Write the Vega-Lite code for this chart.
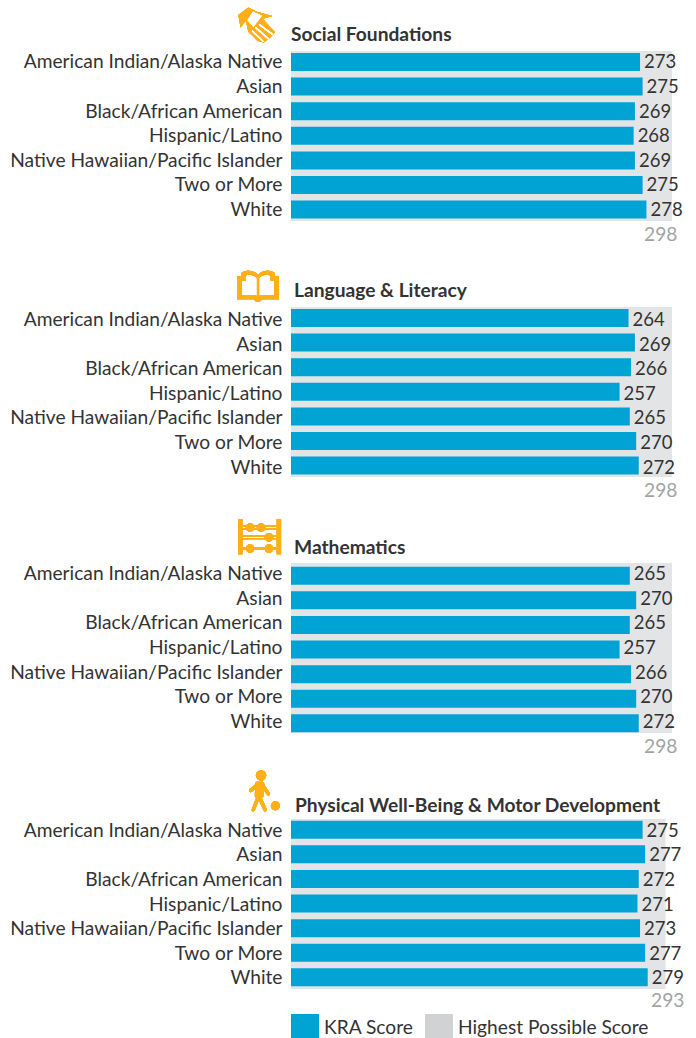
{
"$schema":"https://vega.github.io/schema/vega-lite/v6.json",
"padding":{"left":9,"top":7,"right":0,"bottom":0},
"background":"white",
"config":{"view":{"stroke":null},"font":"Lato","text":{"font":"Lato"},"axis":{"labelFont":"Lato"},"legend":{"labelFont":"Lato"},"title":{"font":"Lato"}},
"bounds":"flush",
"spacing":86,
"data":{"values":[
{"subject":"Social Foundations","group":"American Indian/Alaska Native","score":273,"max":298},
{"subject":"Social Foundations","group":"Asian","score":275,"max":298},
{"subject":"Social Foundations","group":"Black/African American","score":269,"max":298},
{"subject":"Social Foundations","group":"Hispanic/Latino","score":268,"max":298},
{"subject":"Social Foundations","group":"Native Hawaiian/Pacific Islander","score":269,"max":298},
{"subject":"Social Foundations","group":"Two or More","score":275,"max":298},
{"subject":"Social Foundations","group":"White","score":278,"max":298},
{"subject":"Language & Literacy","group":"American Indian/Alaska Native","score":264,"max":298},
{"subject":"Language & Literacy","group":"Asian","score":269,"max":298},
{"subject":"Language & Literacy","group":"Black/African American","score":266,"max":298},
{"subject":"Language & Literacy","group":"Hispanic/Latino","score":257,"max":298},
{"subject":"Language & Literacy","group":"Native Hawaiian/Pacific Islander","score":265,"max":298},
{"subject":"Language & Literacy","group":"Two or More","score":270,"max":298},
{"subject":"Language & Literacy","group":"White","score":272,"max":298},
{"subject":"Mathematics","group":"American Indian/Alaska Native","score":265,"max":298},
{"subject":"Mathematics","group":"Asian","score":270,"max":298},
{"subject":"Mathematics","group":"Black/African American","score":265,"max":298},
{"subject":"Mathematics","group":"Hispanic/Latino","score":257,"max":298},
{"subject":"Mathematics","group":"Native Hawaiian/Pacific Islander","score":266,"max":298},
{"subject":"Mathematics","group":"Two or More","score":270,"max":298},
{"subject":"Mathematics","group":"White","score":272,"max":298},
{"subject":"Physical Well-Being & Motor Development","group":"American Indian/Alaska Native","score":275,"max":293},
{"subject":"Physical Well-Being & Motor Development","group":"Asian","score":277,"max":293},
{"subject":"Physical Well-Being & Motor Development","group":"Black/African American","score":272,"max":293},
{"subject":"Physical Well-Being & Motor Development","group":"Hispanic/Latino","score":271,"max":293},
{"subject":"Physical Well-Being & Motor Development","group":"Native Hawaiian/Pacific Islander","score":273,"max":293},
{"subject":"Physical Well-Being & Motor Development","group":"Two or More","score":277,"max":293},
{"subject":"Physical Well-Being & Motor Development","group":"White","score":279,"max":293}
]},
"vconcat":[
{"width":381,"height":170,
"title":{"text":"Social Foundations","anchor":"start","frame":"group","fontSize":19.2,"fontWeight":"bold","color":"#333333","offset":-38,"dx":0},
"transform":[{"filter":"datum.subject==='Social Foundations'"}],
"layer":[
{"mark":{"type":"rect","color":"#E3E4E6"},"encoding":{"x":{"aggregate":"max","field":"max","type":"quantitative","scale":{"domain":[0,298],"nice":false},"axis":{"values":[298],"title":null,"grid":false,"domain":false,"ticks":false,"labelAlign":"right","labelOffset":5,"labelPadding":4,"labelFontSize":19.2,"labelColor":"#A3A3A3"}},"x2":{"datum":0},"y":{"value":0},"y2":{"value":170}}},
{"mark":{"type":"bar","color":"#00A3D3"},"encoding":{"x":{"field":"score","type":"quantitative","scale":{"domain":[0,298],"nice":false}},"y":{"field":"group","type":"nominal","sort":null,"scale":{"paddingInner":0.268,"paddingOuter":0.089,"align":0.45},"axis":{"title":null,"domain":false,"ticks":false,"labelFontSize":19.2,"labelColor":"#333333","labelPadding":9,"labelLimit":400,"labelOffset":0.5}}}},
{"mark":{"type":"text","align":"left","baseline":"middle","dx":4,"dy":0.5,"fontSize":18.5,"color":"#333333"},"encoding":{"x":{"field":"score","type":"quantitative"},"y":{"field":"group","type":"nominal","sort":null},"text":{"field":"score","type":"quantitative"}}},
{"mark":{"type":"point","filled":true,"opacity":1,"size":1369,"fill":"#FFB018","yOffset":-37,"shape":"M-0.98,-0.54 L-0.44,-0.95 L0.01,-0.72 L0.86,-0.49 L0.33,-0.34 L1,0.4 L0.82,0.59 L0.64,0.77 L0.37,0.95 L0.05,0.85 L-0.44,0.36 L-0.57,-0.23 L-0.86,0.13 Z"},"encoding":{"x":{"datum":-27},"y":{"datum":"American Indian/Alaska Native"}}},
{"mark":{"type":"point","filled":true,"opacity":1,"size":1369,"fill":"#FFFFFF","stroke":"#FFFFFF","strokeWidth":1.2,"yOffset":-37,"shape":"M-0.44,-0.27 L-0.17,-0.67 L0.23,-0.49 L-0.17,0.05 Z M0.15,-0.03 L0.87,0.52 M-0.05,0.14 L0.66,0.76 M-0.23,0.32 L0.37,0.9"},"encoding":{"x":{"datum":-27},"y":{"datum":"American Indian/Alaska Native"}}}
]},
{"width":381,"height":170,
"title":{"text":"Language & Literacy","anchor":"start","frame":"group","fontSize":19.2,"fontWeight":"bold","color":"#333333","offset":-30,"dx":3},
"transform":[{"filter":"datum.subject==='Language & Literacy'"}],
"layer":[
{"mark":{"type":"rect","color":"#E3E4E6"},"encoding":{"x":{"aggregate":"max","field":"max","type":"quantitative","scale":{"domain":[0,298],"nice":false},"axis":{"values":[298],"title":null,"grid":false,"domain":false,"ticks":false,"labelAlign":"right","labelOffset":5,"labelPadding":4,"labelFontSize":19.2,"labelColor":"#A3A3A3"}},"x2":{"datum":0},"y":{"value":0},"y2":{"value":170}}},
{"mark":{"type":"bar","color":"#00A3D3"},"encoding":{"x":{"field":"score","type":"quantitative","scale":{"domain":[0,298],"nice":false}},"y":{"field":"group","type":"nominal","sort":null,"scale":{"paddingInner":0.268,"paddingOuter":0.089,"align":0.45},"axis":{"title":null,"domain":false,"ticks":false,"labelFontSize":19.2,"labelColor":"#333333","labelPadding":9,"labelLimit":400,"labelOffset":2}}}},
{"mark":{"type":"text","align":"left","baseline":"middle","dx":4,"dy":2,"fontSize":18.5,"color":"#333333"},"encoding":{"x":{"field":"score","type":"quantitative"},"y":{"field":"group","type":"nominal","sort":null},"text":{"field":"score","type":"quantitative"}}},
{"mark":{"type":"point","filled":true,"opacity":1,"size":1764,"fill":"#FFB018","yOffset":-31,"shape":"M-1,-0.5 L-0.78,-0.5 L-0.78,-0.68 C-0.5,-0.82 -0.2,-0.8 0,-0.58 C0.2,-0.8 0.5,-0.82 0.78,-0.68 L0.78,-0.5 L1,-0.5 L1,0.58 L0.2,0.58 Q0,0.85 -0.2,0.58 L-1,0.58 Z M-0.05,-0.42 C-0.2,-0.6 -0.5,-0.62 -0.6,-0.52 L-0.6,-0.3 L-0.78,-0.3 L-0.78,0.38 L-0.1,0.38 L-0.05,0.5 Z M0.05,-0.42 L0.05,0.5 L0.1,0.38 L0.78,0.38 L0.78,-0.3 L0.6,-0.3 L0.6,-0.52 C0.5,-0.62 0.2,-0.6 0.05,-0.42 Z"},"encoding":{"x":{"datum":-25.8},"y":{"datum":"American Indian/Alaska Native"}}}
]},
{"width":381,"height":170,
"title":{"text":"Mathematics","anchor":"start","frame":"group","fontSize":19.2,"fontWeight":"bold","color":"#333333","offset":-39,"dx":3},
"transform":[{"filter":"datum.subject==='Mathematics'"}],
"layer":[
{"mark":{"type":"rect","color":"#E3E4E6"},"encoding":{"x":{"aggregate":"max","field":"max","type":"quantitative","scale":{"domain":[0,298],"nice":false},"axis":{"values":[298],"title":null,"grid":false,"domain":false,"ticks":false,"labelAlign":"right","labelOffset":5,"labelPadding":4,"labelFontSize":19.2,"labelColor":"#A3A3A3"}},"x2":{"datum":0},"y":{"value":0},"y2":{"value":170}}},
{"mark":{"type":"bar","color":"#00A3D3"},"encoding":{"x":{"field":"score","type":"quantitative","scale":{"domain":[0,298],"nice":false}},"y":{"field":"group","type":"nominal","sort":null,"scale":{"paddingInner":0.268,"paddingOuter":0.089,"align":0.85},"axis":{"title":null,"domain":false,"ticks":false,"labelFontSize":19.2,"labelColor":"#333333","labelPadding":9,"labelLimit":400,"labelOffset":-1.5}}}},
{"mark":{"type":"text","align":"left","baseline":"middle","dx":4,"dy":-1.5,"fontSize":18.5,"color":"#333333"},"encoding":{"x":{"field":"score","type":"quantitative"},"y":{"field":"group","type":"nominal","sort":null},"text":{"field":"score","type":"quantitative"}}},
{"mark":{"type":"point","filled":true,"opacity":1,"size":1849,"fill":"#FFB018","yOffset":-39,"shape":"M-1,-0.82 L-0.8,-0.82 L-0.8,0.82 L-1,0.82 Z M0.8,-0.82 L1,-0.82 L1,0.82 L0.8,0.82 Z M-0.8,-0.52 L0.8,-0.52 L0.8,-0.47 L-0.8,-0.47 Z M-0.8,-0.39 L0.8,-0.39 L0.8,-0.34 L-0.8,-0.34 Z M-0.8,-0.06 L0.8,-0.06 L0.8,-0.01 L-0.8,-0.01 Z M-0.8,0.07 L0.8,0.07 L0.8,0.12 L-0.8,0.12 Z M-0.8,0.5 L0.8,0.5 L0.8,0.6 L-0.8,0.6 Z M-0.64,-0.43 A0.2,0.2 0 1,1 -0.24,-0.43 A0.2,0.2 0 1,1 -0.64,-0.43 Z M-0.13,-0.43 A0.2,0.2 0 1,1 0.27,-0.43 A0.2,0.2 0 1,1 -0.13,-0.43 Z M0.24,0.03 A0.2,0.2 0 1,1 0.64,0.03 A0.2,0.2 0 1,1 0.24,0.03 Z M-0.64,0.55 A0.2,0.2 0 1,1 -0.24,0.55 A0.2,0.2 0 1,1 -0.64,0.55 Z M0.24,0.55 A0.2,0.2 0 1,1 0.64,0.55 A0.2,0.2 0 1,1 0.24,0.55 Z"},"encoding":{"x":{"datum":-24.6},"y":{"datum":"American Indian/Alaska Native"}}}
]},
{"width":381,"height":170,
"title":{"text":"Physical Well-Being & Motor Development","anchor":"start","frame":"group","fontSize":19.2,"fontWeight":"bold","color":"#333333","offset":-46,"dx":4},
"transform":[{"filter":"datum.subject==='Physical Well-Being & Motor Development'"}],
"layer":[
{"mark":{"type":"rect","opacity":0.6},"encoding":{"x":{"aggregate":"max","field":"max","type":"quantitative","scale":{"domain":[0,298],"nice":false},"axis":{"values":[293],"title":null,"grid":false,"domain":false,"ticks":false,"labelAlign":"right","labelOffset":18.4,"labelPadding":2.5,"labelFontSize":19.2,"labelColor":"#A3A3A3"}},"x2":{"datum":0},"y":{"value":0},"y2":{"value":170},"color":{"datum":"Highest Possible Score","scale":{"domain":["KRA Score","Highest Possible Score"],"range":["#00A3D3","#D1D2D4"]},"legend":{"title":null,"orient":"none","legendX":0,"legendY":963,"direction":"horizontal","columns":2,"symbolType":"square","symbolSize":784,"symbolOpacity":1,"symbolStrokeWidth":0,"labelFontSize":19.2,"labelColor":"#333333","labelOffset":5,"columnPadding":11,"padding":0,"labelLimit":400}}}},
{"mark":{"type":"bar"},"encoding":{"x":{"field":"score","type":"quantitative","scale":{"domain":[0,298],"nice":false}},"color":{"datum":"KRA Score"},"y":{"field":"group","type":"nominal","sort":null,"scale":{"paddingInner":0.268,"paddingOuter":0.089,"align":0.4},"axis":{"title":null,"domain":false,"ticks":false,"labelFontSize":19.2,"labelColor":"#333333","labelPadding":9,"labelLimit":400,"labelOffset":1}}}},
{"mark":{"type":"text","align":"left","baseline":"middle","dx":4,"dy":1,"fontSize":18.5,"color":"#333333"},"encoding":{"x":{"field":"score","type":"quantitative"},"y":{"field":"group","type":"nominal","sort":null},"text":{"field":"score","type":"quantitative"}}},
{"mark":{"type":"point","filled":true,"opacity":1,"size":1600,"fill":"#FFB018","stroke":"#FFB018","strokeWidth":3.4,"strokeCap":"round","strokeJoin":"round","yOffset":-39,"shape":"M-0.35,-0.77 A0.17,0.17 0 1,1 0,-0.77 A0.17,0.17 0 1,1 -0.35,-0.77 Z M0.4,0.75 A0.14,0.14 0 1,1 0.68,0.75 A0.14,0.14 0 1,1 0.4,0.75 Z M-0.38,-0.36 L-0.1,-0.36 L-0.14,0.26 L-0.4,0.26 Z M-0.28,-0.36 L-0.69,-0.02 M-0.14,-0.33 L0.19,0.15 M-0.31,0.3 L-0.56,0.95 M-0.28,0.26 L0.03,0.95"},"encoding":{"x":{"datum":-20.7},"y":{"datum":"American Indian/Alaska Native"}}}
]}
]
}
